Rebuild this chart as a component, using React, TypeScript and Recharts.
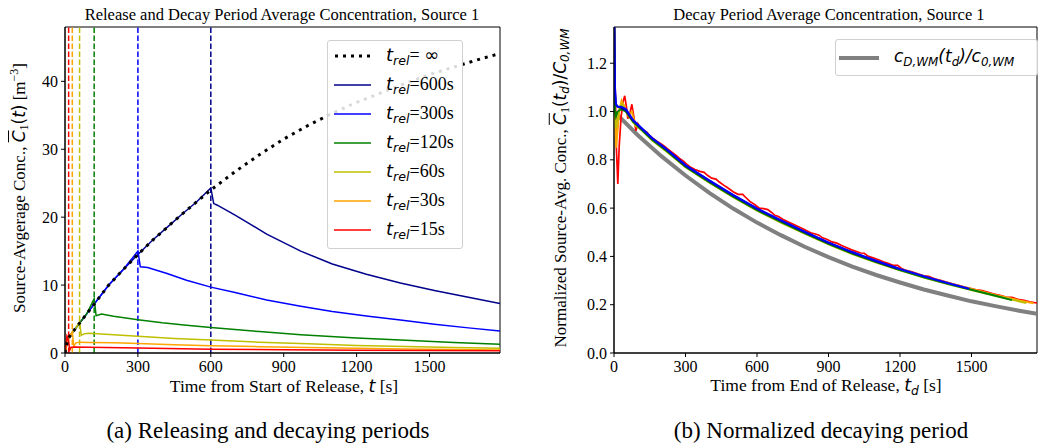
import React from 'react';
import { LineChart, Line, XAxis, YAxis, ReferenceLine, ReferenceArea } from 'recharts';

const SERIF = '"Liberation Serif", "DejaVu Serif", serif';
const MATH = '"DejaVu Sans", sans-serif';

// ---- panel (a): source-average concentration [m^-3] vs time from start of release [s]
const releaseTimes = [600, 300, 120, 60, 30, 15];
const xTicksA = [0, 300, 600, 900, 1200, 1500];
const yTicksA = [0, 10, 20, 30, 40];

// continuous release (t_rel = inf)
const concInf = [
  [0, 0], [10, 1.8], [20, 2.5], [30, 3.0], [45, 3.7], [60, 4.4], [90, 5.8], [120, 7.2],
  [180, 10.0], [240, 12.3], [300, 14.5], [360, 16.6], [420, 18.5], [480, 20.4], [540, 22.2],
  [600, 24.0], [700, 26.7], [800, 29.2], [900, 31.5], [1000, 33.5], [1100, 35.3], [1200, 36.9],
  [1300, 38.3], [1400, 39.7], [1500, 41.0], [1600, 42.1], [1700, 43.2], [1790, 44.1],
];

// after the release stops
const decay600 = [
  [600, 24.3], [612, 22.0], [625, 21.8], [700, 20.3], [830, 17.5], [970, 15.0], [1100, 13.1],
  [1240, 11.6], [1380, 10.3], [1520, 9.2], [1660, 8.2], [1790, 7.3],
];
const decay300 = [
  [300, 15.0], [310, 12.7], [340, 12.6], [420, 11.7], [500, 10.7], [600, 9.7], [700, 8.9],
  [830, 7.8], [970, 6.9], [1100, 6.1], [1240, 5.45], [1380, 4.85], [1520, 4.25], [1660, 3.7], [1790, 3.25],
];
const decay120 = [
  [120, 8.0], [128, 5.5], [150, 5.75], [200, 5.4], [300, 4.9], [400, 4.45], [500, 4.1], [600, 3.75],
  [800, 3.15], [970, 2.7], [1200, 2.2], [1380, 1.9], [1600, 1.55], [1790, 1.3],
];
const decay60 = [
  [60, 4.6], [67, 2.6], [80, 2.85], [100, 2.9], [150, 2.8], [300, 2.45], [450, 2.15], [600, 1.9],
  [800, 1.6], [1000, 1.35], [1200, 1.12], [1400, 0.95], [1600, 0.8], [1790, 0.7],
];
const decay30 = [
  [30, 3.1], [36, 1.0], [45, 1.5], [60, 1.6], [100, 1.55], [200, 1.5], [300, 1.4], [450, 1.22],
  [600, 1.08], [800, 0.93], [1000, 0.8], [1200, 0.69], [1400, 0.6], [1600, 0.52], [1790, 0.45],
];
// 15 s release, including its own short rise
const conc15 = [
  [0, 0], [4, 1.2], [8, 2.5], [12, 2.2], [15, 1.5], [20, 0.45], [25, 0.85], [40, 0.9], [100, 0.85],
  [300, 0.72], [600, 0.57], [900, 0.48], [1200, 0.42], [1500, 0.37], [1790, 0.33],
];

// ---- panel (b): normalized decay vs time from end of release [s]
const xTicksB = [0, 300, 600, 900, 1200, 1500];
const yTicksB = [0, 0.2, 0.4, 0.6, 0.8, 1.0, 1.2];

const wellMixed = [
  [0, 1.0], [100, 0.902], [200, 0.814], [300, 0.735], [400, 0.663], [500, 0.598], [600, 0.54],
  [700, 0.488], [800, 0.44], [900, 0.397], [1000, 0.358], [1100, 0.323], [1200, 0.292], [1300, 0.263],
  [1400, 0.238], [1500, 0.214], [1600, 0.194], [1700, 0.175], [1775, 0.162],
];
const norm600 = [
  [0, 1.5], [4, 1.08], [8, 1.03], [15, 1.02], [30, 1.015], [50, 1.005], [80, 0.962], [110, 0.935],
  [160, 0.888], [220, 0.843], [300, 0.776], [400, 0.713], [500, 0.653], [600, 0.597], [700, 0.548],
  [800, 0.501], [900, 0.456], [1000, 0.416], [1100, 0.38], [1190, 0.35],
];
const norm300 = [
  [0, 1.5], [4, 1.1], [8, 1.03], [15, 1.02], [30, 1.02], [50, 1.01], [80, 0.965], [110, 0.937],
  [160, 0.89], [220, 0.845], [300, 0.778], [400, 0.715], [500, 0.655], [600, 0.599], [700, 0.55],
  [800, 0.503], [900, 0.458], [1000, 0.418], [1100, 0.382], [1200, 0.348], [1300, 0.318],
  [1400, 0.29], [1490, 0.266],
];
const norm120 = [
  [0, 1.5], [4, 1.0], [8, 0.98], [15, 1.0], [30, 1.01], [50, 1.0], [80, 0.958], [110, 0.93],
  [160, 0.883], [220, 0.838], [300, 0.772], [400, 0.708], [500, 0.648], [600, 0.592], [700, 0.543],
  [800, 0.497], [900, 0.452], [1000, 0.412], [1100, 0.377], [1200, 0.344], [1300, 0.314],
  [1400, 0.287], [1500, 0.262], [1600, 0.237], [1670, 0.219],
];
const norm60 = [
  [0, 1.5], [4, 0.97], [8, 0.93], [15, 0.97], [25, 1.02], [35, 1.03], [50, 1.0], [80, 0.955],
  [110, 0.928], [160, 0.88], [220, 0.835], [300, 0.769], [400, 0.705], [500, 0.645], [600, 0.59],
  [700, 0.54], [800, 0.494], [900, 0.45], [1000, 0.41], [1100, 0.375], [1200, 0.342], [1300, 0.313],
  [1400, 0.286], [1500, 0.261], [1600, 0.237], [1730, 0.207],
];
const norm30 = [
  [0, 1.5], [4, 1.0], [9, 0.85], [15, 0.92], [22, 1.0], [32, 1.045], [45, 1.02], [58, 0.985],
  [75, 1.0], [90, 0.94], [110, 0.932], [160, 0.885], [220, 0.84], [300, 0.774], [400, 0.71],
  [500, 0.65], [600, 0.594], [700, 0.546], [800, 0.5], [900, 0.455], [1000, 0.415], [1100, 0.38],
  [1200, 0.347], [1300, 0.317], [1400, 0.29], [1500, 0.265], [1600, 0.24], [1700, 0.218], [1760, 0.206],
];
const norm15 = [
  [0, 1.5], [5, 1.1], [10, 0.85], [16, 0.7], [22, 0.86], [30, 0.98], [38, 1.04], [45, 1.065],
  [52, 1.02], [58, 0.97], [66, 0.99], [75, 1.03], [83, 0.98], [92, 0.92], [100, 0.95], [112, 0.93],
  [125, 0.922], [138, 0.915], [150, 0.9], [165, 0.888], [180, 0.877], [195, 0.868], [210, 0.858],
  [225, 0.845], [240, 0.834], [258, 0.82], [275, 0.806], [290, 0.795], [305, 0.782], [320, 0.77],
  [340, 0.76], [360, 0.752], [378, 0.748], [392, 0.736], [410, 0.724], [428, 0.72], [442, 0.708],
  [460, 0.695], [480, 0.682], [500, 0.668], [520, 0.657], [540, 0.657], [552, 0.645], [570, 0.628],
  [590, 0.615], [610, 0.6], [628, 0.598], [645, 0.594], [660, 0.583], [675, 0.57], [690, 0.565],
  [710, 0.553], [730, 0.543], [750, 0.534], [770, 0.525], [790, 0.516], [805, 0.508], [825, 0.498],
  [845, 0.493], [860, 0.488], [875, 0.477], [895, 0.47], [915, 0.46], [935, 0.455], [955, 0.445],
  [975, 0.437], [995, 0.428], [1015, 0.421], [1035, 0.414], [1050, 0.413], [1065, 0.402],
  [1090, 0.393], [1110, 0.386], [1130, 0.378], [1150, 0.371], [1170, 0.363], [1190, 0.363],
  [1205, 0.351], [1225, 0.342], [1250, 0.336], [1275, 0.328], [1300, 0.32], [1320, 0.317],
  [1345, 0.307], [1370, 0.301], [1395, 0.294], [1420, 0.287], [1445, 0.28], [1470, 0.273],
  [1495, 0.268], [1520, 0.262], [1545, 0.258], [1570, 0.251], [1595, 0.244], [1620, 0.239],
  [1645, 0.232], [1670, 0.23], [1695, 0.222], [1720, 0.218], [1745, 0.212], [1775, 0.207],
];

const COLORS: Record<number, string> = {
  600: '#00008B',
  300: '#0000FF',
  120: '#008000',
  60: '#BFBF00',
  30: '#FFA500',
  15: '#FF0000',
};

const toPts = (rows: number[][]) => rows.map(([t, c]) => ({ t, c }));
const withRise = (rel: number, decay: number[][]) =>
  toPts(concInf.filter(([t]) => t < rel).concat(decay));

const seriesA: Record<number, { t: number; c: number }[]> = {
  600: withRise(600, decay600),
  300: withRise(300, decay300),
  120: withRise(120, decay120),
  60: withRise(60, decay60),
  30: withRise(30, decay30),
  15: toPts(conc15),
};
const seriesB: Record<number, { t: number; c: number }[]> = {
  600: toPts(norm600),
  300: toPts(norm300),
  120: toPts(norm120),
  60: toPts(norm60),
  30: toPts(norm30),
  15: toPts(norm15),
};

// serif tick labels, font set through CSS so nothing overrides it
const makeTick = (axis: 'x' | 'y', fmt: (v: number) => string = String) => (props: any) => {
  const { x, y, payload } = props;
  return (
    <text
      x={x} y={y} fill="#000"
      style={{ fontFamily: SERIF, fontSize: 16 }}
      textAnchor={axis === 'x' ? 'middle' : 'end'}
      dy={axis === 'x' ? '0.75em' : '0.35em'}
    >
      {fmt(payload.value)}
    </text>
  );
};

const M = ({ children }: { children: React.ReactNode }) => (
  <span style={{ fontFamily: MATH, fontStyle: 'italic' }}>{children}</span>
);
const Sub = ({ children }: { children: React.ReactNode }) => (
  <span style={{ fontSize: '0.7em', verticalAlign: '-0.3em' }}>{children}</span>
);
const Sup = ({ children }: { children: React.ReactNode }) => (
  <span style={{ fontSize: '0.7em', verticalAlign: '0.55em' }}>{children}</span>
);
const Cbar = () => (
  <span style={{ fontFamily: MATH, fontStyle: 'italic', textDecoration: 'overline' }}>C</span>
);

const abs = (x: number, y: number, extra: React.CSSProperties = {}): React.CSSProperties => ({
  position: 'absolute',
  left: x,
  top: y,
  transform: 'translate(-50%, -50%)',
  whiteSpace: 'nowrap',
  lineHeight: 1,
  ...extra,
});

const DottedHandle = () => (
  <svg width={37} height={6} style={{ display: 'block' }}>
    <line x1={1} y1={3} x2={37} y2={3} stroke="#000" strokeWidth={3} strokeDasharray="3 5" />
  </svg>
);
const LineHandle = ({ color, width = 1.5 }: { color: string; width?: number }) => (
  <svg width={37} height={6} style={{ display: 'block' }}>
    <line x1={0} y1={3} x2={37} y2={3} stroke={color} strokeWidth={width} />
  </svg>
);

const LegendA = () => (
  <div
    style={{
      position: 'absolute', left: 327, top: 40, width: 134, height: 207,
      border: '1px solid #d0d0d0', borderRadius: 3, background: 'rgba(255,255,255,0.85)',
    }}
  >
    {[0, ...releaseTimes].map((rel, i) => (
      <div
        key={rel}
        style={{ position: 'absolute', left: 6, top: 15 + i * 29 - 11, height: 22, display: 'flex', alignItems: 'center' }}
      >
        {rel === 0 ? <DottedHandle /> : <LineHandle color={COLORS[rel]} />}
        <span style={{ marginLeft: 15, fontSize: 18, fontFamily: SERIF, whiteSpace: 'nowrap' }}>
          <M>t<Sub>rel</Sub></M>
          {rel === 0 ? (
            <>= <span style={{ fontFamily: MATH }}>∞</span></>
          ) : (
            `=${rel}s`
          )}
        </span>
      </div>
    ))}
  </div>
);

const LegendB = () => (
  <div
    style={{
      position: 'absolute', left: 835, top: 39, width: 201, height: 35,
      border: '1px solid #d0d0d0', borderRadius: 3, background: 'rgba(255,255,255,0.85)',
      display: 'flex', alignItems: 'center',
    }}
  >
    <div style={{ marginLeft: 3 }}>
      <svg width={40} height={6} style={{ display: 'block' }}>
        <line x1={0} y1={3} x2={40} y2={3} stroke="#808080" strokeWidth={4} />
      </svg>
    </div>
    <span style={{ marginLeft: 15, fontSize: 17, fontFamily: MATH, fontStyle: 'italic', whiteSpace: 'nowrap' }}>
      c<Sub>D,WM</Sub>(t<Sub>d</Sub>)/c<Sub>0,WM</Sub>
    </span>
  </div>
);

export default function App() {
  return (
    <div style={{ position: 'absolute', left: 0, top: 0, width: 1038, height: 448, background: '#fff', fontFamily: SERIF, color: '#000' }}>
      {/* panel (a) */}
      <div style={{ position: 'absolute', left: 0, top: 0 }}>
        <LineChart width={520} height={448} margin={{ top: 27, right: 20, bottom: 65, left: 0 }} style={{ fontFamily: SERIF }}>
          <XAxis
            dataKey="t" type="number" domain={[0, 1790]} ticks={xTicksA} allowDataOverflow
            height={30} tick={makeTick('x')} tickSize={4} tickMargin={3}
            stroke="#000" tickLine={{ stroke: '#000' }}
          />
          <YAxis
            dataKey="c" type="number" domain={[0, 48]} ticks={yTicksA} allowDataOverflow
            width={65} tick={makeTick('y')} tickSize={4} tickMargin={3}
            stroke="#000" tickLine={{ stroke: '#000' }}
          />
          <ReferenceArea x1={0} x2={1790} y1={0} y2={48} fill="none" stroke="#000" strokeWidth={1} />
          {releaseTimes.map((rel) => (
            <ReferenceLine key={`v${rel}`} x={rel} stroke={COLORS[rel]} strokeWidth={1.5} strokeDasharray="5.5 2.5" />
          ))}
          {releaseTimes.map((rel) => (
            <Line
              key={rel} data={seriesA[rel]} dataKey="c" type="linear" stroke={COLORS[rel]}
              strokeWidth={1.5} dot={false} isAnimationActive={false}
            />
          ))}
          <Line
            data={toPts(concInf)} dataKey="c" type="linear" stroke="#000" strokeWidth={3}
            strokeDasharray="3 5" dot={false} isAnimationActive={false}
          />
        </LineChart>
      </div>

      {/* panel (b) */}
      <div style={{ position: 'absolute', left: 520, top: 0 }}>
        <LineChart width={518} height={448} margin={{ top: 27, right: 1, bottom: 65, left: 0 }} style={{ fontFamily: SERIF }}>
          <XAxis
            dataKey="t" type="number" domain={[0, 1775]} ticks={xTicksB} allowDataOverflow
            height={30} tick={makeTick('x')} tickSize={4} tickMargin={3}
            stroke="#000" tickLine={{ stroke: '#000' }}
          />
          <YAxis
            dataKey="c" type="number" domain={[0, 1.35]} ticks={yTicksB} allowDataOverflow
            width={94} tick={makeTick('y', (v) => v.toFixed(1))} tickSize={4} tickMargin={3}
            stroke="#000" tickLine={{ stroke: '#000' }}
          />
          <ReferenceArea x1={0} x2={1775} y1={0} y2={1.35} fill="none" stroke="#000" strokeWidth={1} />
          <Line
            data={toPts(wellMixed)} dataKey="c" type="linear" stroke="#808080" strokeWidth={4}
            dot={false} isAnimationActive={false}
          />
          {[15, 30, 60, 120, 600, 300].map((rel) => (
            <Line
              key={rel} data={seriesB[rel]} dataKey="c" type="linear" stroke={COLORS[rel]}
              strokeWidth={rel === 15 ? 1.7 : 2} dot={false} isAnimationActive={false}
            />
          ))}
        </LineChart>
      </div>

      {/* titles */}
      <div style={abs(282, 15, { fontSize: 16.5 })}>Release and Decay Period Average Concentration, Source 1</div>
      <div style={abs(829, 15, { fontSize: 16.5 })}>Decay Period Average Concentration, Source 1</div>

      {/* y labels */}
      <div style={abs(20, 188, { fontSize: 17, transform: 'translate(-50%, -50%) rotate(-90deg)' })}>
        Source-Avgerage Conc., <Cbar /><Sub>1</Sub><span style={{ fontFamily: MATH }}>(<i>t</i>)</span> [m<Sup>−3</Sup>]
      </div>
      <div style={abs(562, 188, { fontSize: 17, transform: 'translate(-50%, -50%) rotate(-90deg)' })}>
        Normalized Source-Avg. Conc., <Cbar /><Sub>1</Sub>
        <span style={{ fontFamily: MATH }}>(<i>t</i><Sub><i>d</i></Sub>)/<i>C</i><Sub><i>0,WM</i></Sub></span>
      </div>

      {/* x labels */}
      <div style={abs(284, 387, { fontSize: 17.5 })}>
        Time from Start of Release, <M>t</M> [s]
      </div>
      <div style={abs(826, 387, { fontSize: 17.5 })}>
        Time from End of Release, <M>t<Sub>d</Sub></M> [s]
      </div>

      {/* captions */}
      <div style={abs(268, 430, { fontSize: 23 })}>(a) Releasing and decaying periods</div>
      <div style={abs(821, 430, { fontSize: 23 })}>(b) Normalized decaying period</div>

      <LegendA />
      <LegendB />
    </div>
  );
}
